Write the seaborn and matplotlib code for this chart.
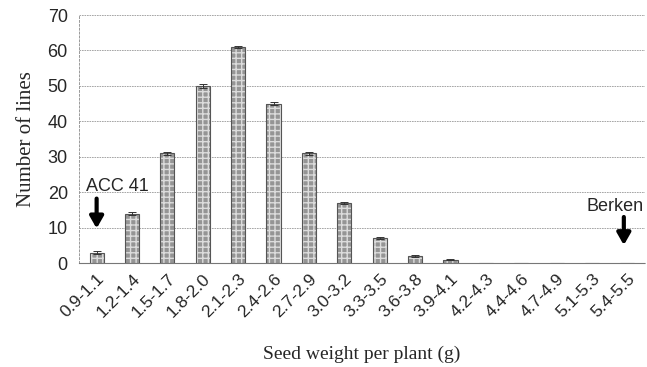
import matplotlib
matplotlib.use("Agg")
import matplotlib.pyplot as plt
import seaborn as sns
import pandas as pd
import numpy as np

categories = ["0.9-1.1", "1.2-1.4", "1.5-1.7", "1.8-2.0", "2.1-2.3", "2.4-2.6",
              "2.7-2.9", "3.0-3.2", "3.3-3.5", "3.6-3.8", "3.9-4.1", "4.2-4.3",
              "4.4-4.6", "4.7-4.9", "5.1-5.3", "5.4-5.5"]
counts = [3, 14, 31, 50, 61, 45, 31, 17, 7, 2, 1, 0, 0, 0, 0, 0]
errs = [0.4, 0.4, 0.4, 0.5, 0.4, 0.4, 0.4, 0.3, 0.3, 0.3, 0.2, 0, 0, 0, 0, 0]
yticks = [0, 10, 20, 30, 40, 50, 60, 70]

sns.set_style("white")
df = pd.DataFrame({"cat": categories, "n": counts})

fig = plt.figure(figsize=(6.47, 3.67), dpi=100)
ax = fig.add_axes([0.122, 0.283, 0.875, 0.676])

sns.barplot(data=df, x="cat", y="n", ax=ax, width=0.4, color="#959595",
            edgecolor="#dcdcdc", hatch="+++", linewidth=0, saturation=1, zorder=3)
sns.barplot(data=df, x="cat", y="n", ax=ax, width=0.4, fill=False,
            edgecolor="#555555", linewidth=0.8, zorder=4)
xs = np.arange(len(categories))
mask = np.array(counts) > 0
ax.errorbar(xs[mask], np.array(counts)[mask], yerr=np.array(errs)[mask], fmt="none",
            ecolor="#333333", elinewidth=0.7, capsize=3, capthick=0.7, zorder=5)

ax.set_ylim(0, 70)
ax.set_xlim(-0.5, len(categories) - 0.5)
ax.set_yticks(yticks)
ax.set_yticklabels([str(t) for t in yticks], fontsize=13, family="Liberation Sans")
ax.set_xticks(xs)
ax.set_xticklabels(categories, rotation=45, ha="right", rotation_mode="anchor",
                   fontsize=12.5, family="Liberation Sans")
ax.tick_params(axis="x", which="major", length=0, pad=6)
ax.tick_params(axis="y", length=0, pad=8)
ax.set_xticks(np.arange(-0.5, len(categories), 1.0), minor=True)
ax.tick_params(axis="x", which="minor", length=4, color="#888888", width=0.6)

ax.yaxis.grid(True, linestyle=(0, (2, 1)), color="#999999", linewidth=0.6, zorder=0)
for s in ["top", "right"]:
    ax.spines[s].set_visible(False)
ax.spines["left"].set_linestyle((0, (2, 2)))
ax.spines["left"].set_color("#999999")
ax.spines["left"].set_linewidth(0.7)
ax.spines["bottom"].set_linestyle((0, (2, 1)))
ax.spines["bottom"].set_color("#777777")
ax.spines["bottom"].set_linewidth(0.8)

ax.set_ylabel("Number of lines", fontsize=15, family="Liberation Serif", labelpad=8)
ax.set_xlabel("Seed weight per plant (g)", fontsize=14, family="Liberation Serif", labelpad=18)

ax.annotate("", xy=(0, 9.0), xytext=(0, 19.0),
            arrowprops=dict(arrowstyle="-|>,head_width=0.4,head_length=0.7",
                            color="black", lw=3), zorder=6)
ax.text(0.6, 21.7, "ACC 41", fontsize=13, family="Liberation Sans", ha="center", va="center")
ax.annotate("", xy=(14.9, 4.3), xytext=(14.9, 13.8),
            arrowprops=dict(arrowstyle="-|>,head_width=0.4,head_length=0.7",
                            color="black", lw=3), zorder=6)
ax.text(14.65, 16.0, "Berken", fontsize=13, family="Liberation Sans", ha="center", va="center")

fig.savefig("out.png", dpi=100)
